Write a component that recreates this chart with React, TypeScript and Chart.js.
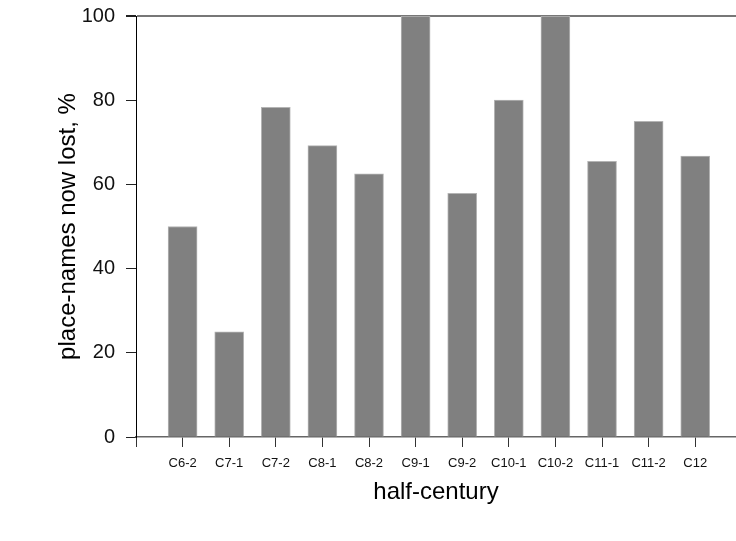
import React, { useEffect, useRef } from "react";
import { Chart, registerables } from "chart.js";

Chart.register(...registerables);

const categories = ["C6-2", "C7-1", "C7-2", "C8-1", "C8-2", "C9-1", "C9-2", "C10-1", "C10-2", "C11-1", "C11-2", "C12"];
const lostPercent = [50, 25, 78.3, 69.2, 62.5, 100, 57.9, 80, 100, 65.5, 75, 66.7];
const yTickValues = [0, 20, 40, 60, 80, 100];

const FONT = "'Liberation Sans', Arial, Helvetica, sans-serif";

export default function App() {
  const ref = useRef<HTMLCanvasElement | null>(null);

  useEffect(() => {
    if (!ref.current) return;
    const chart = new Chart(ref.current, {
      type: "bar",
      data: {
        datasets: [
          {
            data: lostPercent.map((v, i) => ({ x: i + 1, y: v })),
            backgroundColor: "#808080",
            borderColor: "#b4b4b4",
            borderWidth: 1,
            barThickness: 29,
          },
        ],
      },
      options: {
        responsive: false,
        animation: false,
        layout: { padding: { top: 16, right: 0, left: 0, bottom: 0 } },
        plugins: {
          legend: { display: false },
          tooltip: { enabled: false },
        },
        scales: {
          x: {
            type: "linear",
            offset: false,
            min: 0,
            max: 12.875,
            afterBuildTicks: (scale: any) => {
              scale.ticks = [0, ...categories.map((_, i) => i + 1)].map((v) => ({ value: v }));
            },
            afterFit: (scale: any) => {
              scale.height = 104;
              scale.paddingLeft = 0;
              scale.paddingRight = 0;
            },
            ticks: {
              autoSkip: false,
              maxRotation: 0,
              padding: 9,
              color: "#111",
              font: { family: FONT, size: 13 },
              callback: (v: any) => (v >= 1 && v <= categories.length ? categories[v - 1] : ""),
            },
            grid: {
              display: true,
              drawOnChartArea: false,
              drawTicks: true,
              tickLength: 10,
              tickColor: "#333",
              offset: false,
            },
            border: { display: true, color: "#666", width: 1.5 },
            title: {
              display: true,
              text: "half-century",
              color: "#000",
              font: { family: FONT, size: 24 },
              padding: { top: 0, bottom: 34 },
            },
          },
          y: {
            min: 0,
            max: 100,
            afterBuildTicks: (scale: any) => {
              scale.ticks = yTickValues.map((v) => ({ value: v }));
            },
            afterFit: (scale: any) => {
              scale.width = 136;
              scale.paddingTop = 0;
              scale.paddingBottom = 0;
            },
            ticks: {
              padding: 11,
              color: "#111",
              font: { family: FONT, size: 20 },
            },
            grid: {
              drawTicks: true,
              tickLength: 10,
              tickColor: "#222",
              color: (ctx: any) => (ctx.tick && ctx.tick.value === 100 ? "#777" : "rgba(0,0,0,0)"),
              lineWidth: (ctx: any) => (ctx.tick && ctx.tick.value === 100 ? 2 : 1),
            },
            border: { display: true, color: "#000", width: 1 },
            title: {
              display: true,
              text: "place-names now lost, %",
              color: "#000",
              font: { family: FONT, size: 24 },
              padding: { top: 54, bottom: 0 },
            },
          },
        },
      },
    });
    return () => chart.destroy();
  }, []);

  return (
    <div style={{ position: "fixed", left: 0, top: 0, width: 736, height: 541, background: "#fff" }}>
      <canvas ref={ref} width={736} height={541} style={{ display: "block" }} />
    </div>
  );
}
